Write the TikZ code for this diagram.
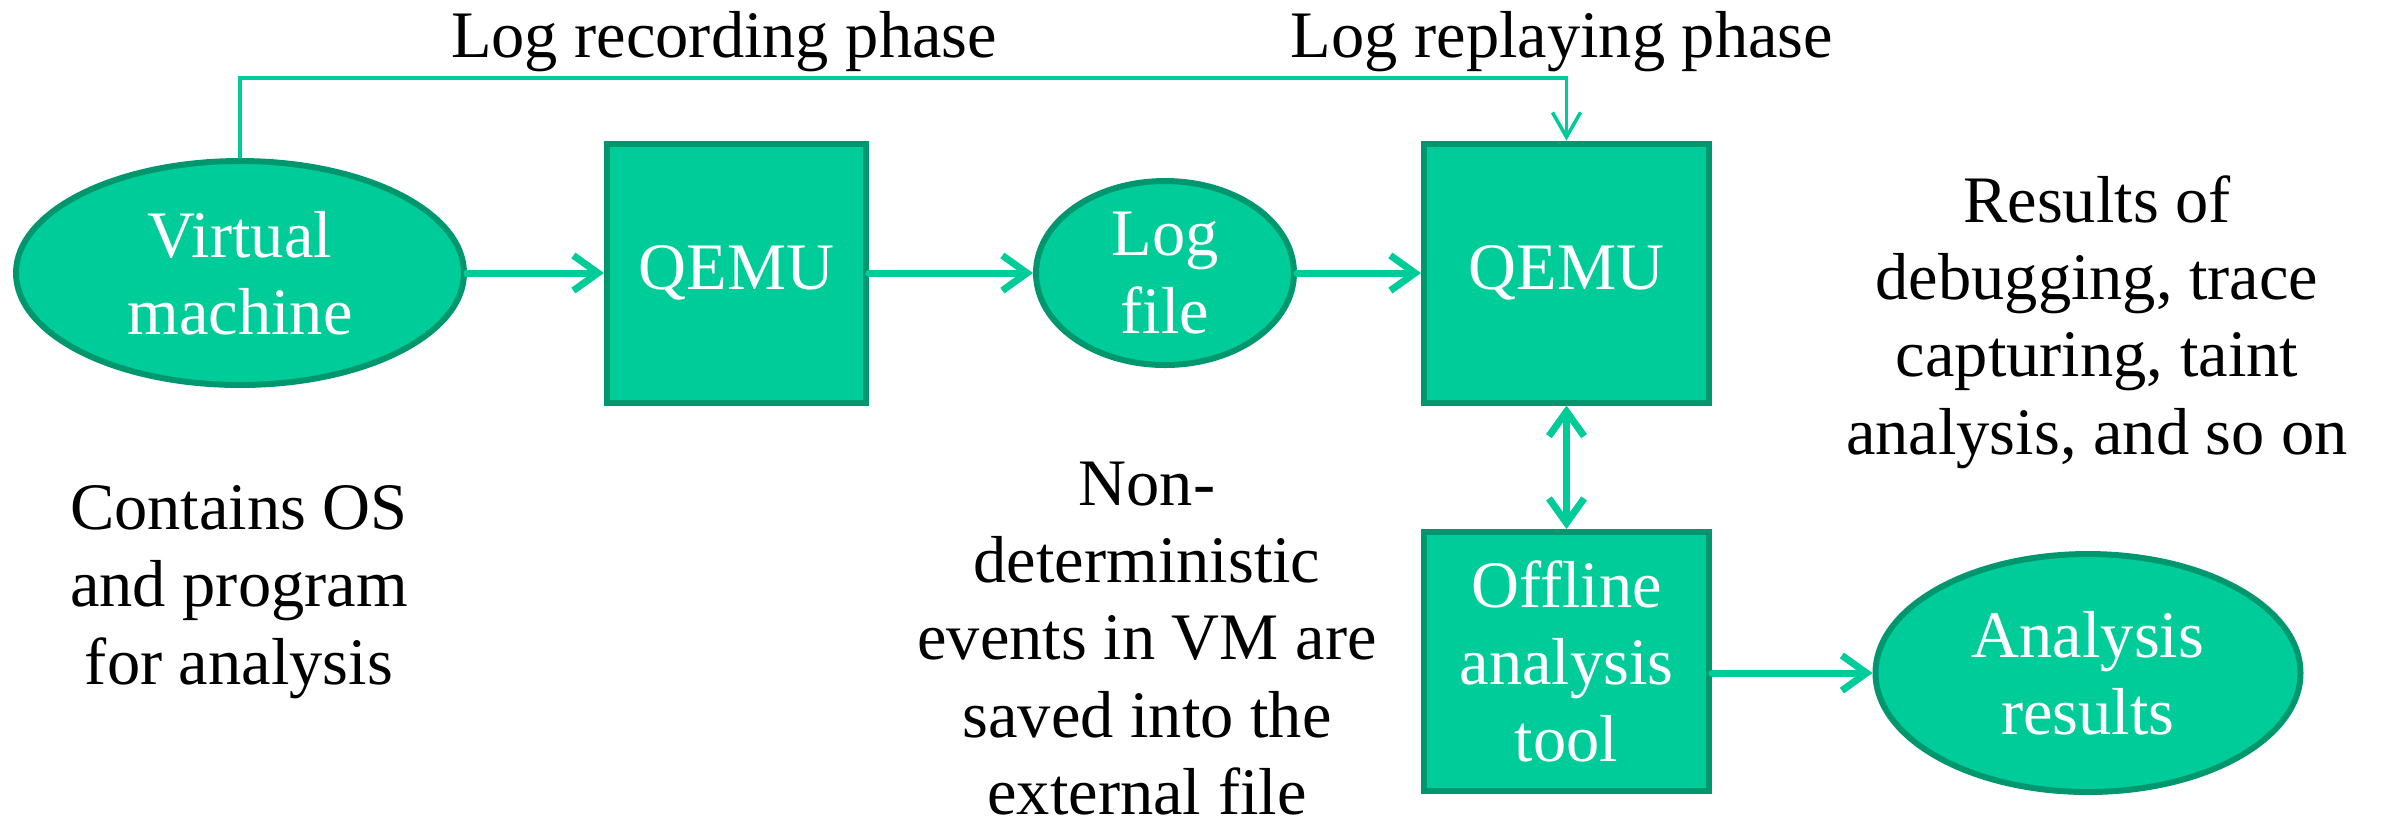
\documentclass[tikz,border=0pt]{standalone}
\usepackage{fontspec}
\setmainfont{Liberation Serif}
\usetikzlibrary{positioning}
\usetikzlibrary{shapes.geometric}
\usetikzlibrary{arrows.meta}
\definecolor{boxColor}{RGB}{0,204,153}
\definecolor{borderColor}{RGB}{0,150,110}

\begin{document}
\begin{tikzpicture}[font=\fontsize{18.9}{22.0}\selectfont]

          \tikzstyle{phaseText} = [black, anchor=base];
          \tikzstyle{noteText} = [black, align=center];
          \tikzstyle{ovalNode} = [ellipse, draw=borderColor, fill=boxColor, line width=1.7pt, text=white, align=center, inner sep=0pt];
          \tikzstyle{boxNode} = [rectangle, draw=borderColor, fill=boxColor, line width=1.7pt, text=white, align=center, inner sep=0pt];
          \tikzstyle{flowEdge} = [boxColor, line width=2pt, line cap=round, -{Straight Barb[length=7pt,width=10pt]}];
          \tikzstyle{thinEdge} = [boxColor, line width=1pt, -{Straight Barb[length=7pt,width=8pt]}];

          \useasboundingbox (0,0) rectangle (23.81,-8.27);

          \node[ovalNode, minimum width=4.48cm, minimum height=2.24cm] (vm) at (2.40,-2.73) {Virtual\\machine};
          \node[boxNode, minimum width=2.59cm, minimum height=2.59cm] (qemuRec) at (7.365,-2.73) {QEMU};
          \node[ovalNode, minimum width=2.58cm, minimum height=1.84cm] (log) at (11.65,-2.73) {Log\\file};
          \node[boxNode, minimum width=2.85cm, minimum height=2.59cm] (qemuRep) at (15.665,-2.73) {QEMU};
          \node[boxNode, minimum width=2.85cm, minimum height=2.59cm] (offline) at (15.665,-6.615) {Offline\\analysis\\tool};
          \node[ovalNode, minimum width=4.25cm, minimum height=2.38cm] (results) at (20.88,-6.73) {Analysis\\results};

          \node[phaseText] (recPhase) at (7.24,-0.57) {Log recording phase};
          \node[phaseText] (repPhase) at (15.62,-0.57) {Log replaying phase};
          \node[noteText] (vmNote) at (2.39,-5.92) {Contains OS\\and program\\for analysis};
          \node[noteText] (logNote) at (11.47,-6.385) {Non-\\deterministic\\events in VM are\\saved into the\\external file};
          \node[noteText] (resNote) at (20.97,-3.22) {Results of\\debugging, trace\\capturing, taint\\analysis, and so on};

          \coordinate (bend) at (2.40,-0.78);

          \draw[thinEdge] (vm.north) -- (bend) -| (qemuRep.north);
          \draw[flowEdge] (vm) -- (qemuRec);
          \draw[flowEdge] (qemuRec) -- (log);
          \draw[flowEdge] (log) -- (qemuRep);
          \draw[flowEdge, {Straight Barb[length=7pt,width=10pt]}-{Straight Barb[length=7pt,width=10pt]}] (qemuRep) -- (offline);
          \draw[flowEdge] (offline.east |- results.west) -- (results.west);
        \end{tikzpicture}
\end{document}
